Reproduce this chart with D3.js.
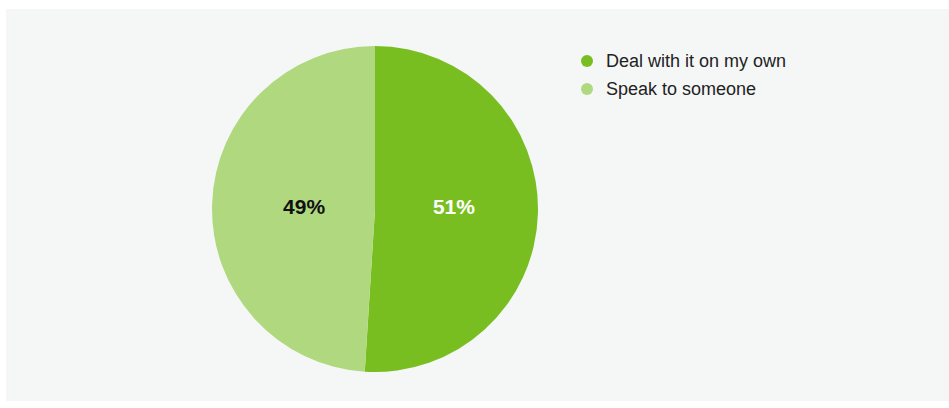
<!DOCTYPE html>
<html><head><meta charset="utf-8">
<script src="https://cdn.jsdelivr.net/npm/d3@7"></script>
<style>html,body{margin:0;padding:0;background:#fff;}svg{display:block;}</style>
</head><body>
<svg id="chart" width="949" height="408"></svg>
<script>
const categories = ["Deal with it on my own", "Speak to someone"];
const values = [51, 49];
const labelTexts = ["51%", "49%"];
const colors = ["#79be21", "#b0d87e"];
const labelColors = ["#ffffff", "#111111"];

const svg = d3.select("#chart");
svg.append("rect").attr("x", 6).attr("y", 9).attr("width", 943).attr("height", 392).attr("fill", "#f5f7f7");

const cx = 375, cy = 209, R = 163;
const pie = d3.pie().sort(null).value(d => d.v);
const data = pie(categories.map((c, i) => ({c, v: values[i], i})));
const arc = d3.arc().innerRadius(0).outerRadius(R);
const labelArc = d3.arc().innerRadius(150).outerRadius(0);
const g = svg.append("g").attr("transform", `translate(${cx},${cy})`);
g.selectAll("path").data(data).join("path")
  .attr("d", arc).attr("fill", d => colors[d.data.i]);
g.selectAll("text").data(data).join("text")
  .attr("x", d => labelArc.centroid(d)[0] + (d.data.i === 1 ? 4 : 4))
  .attr("y", -2)
  .attr("text-anchor", "middle").attr("dy", "0.35em")
  .attr("font-family", "Liberation Sans, Arial, sans-serif")
  .attr("font-weight", "bold").attr("font-size", 21)
  .attr("fill", d => labelColors[d.data.i])
  .text(d => labelTexts[d.data.i]);

const legend = svg.append("g");
const ly = d3.scalePoint().domain(categories).range([61, 89]);
const items = legend.selectAll("g").data(categories).join("g")
  .attr("transform", d => `translate(587,${ly(d)})`);
items.append("circle").attr("r", 6).attr("fill", (d, i) => colors[i]);
items.append("text").attr("x", 19).attr("dy", "0.35em")
  .attr("font-family", "Liberation Sans, Arial, sans-serif")
  .attr("font-size", 18).attr("fill", "#222")
  .text(d => d);
</script>
</body></html>
